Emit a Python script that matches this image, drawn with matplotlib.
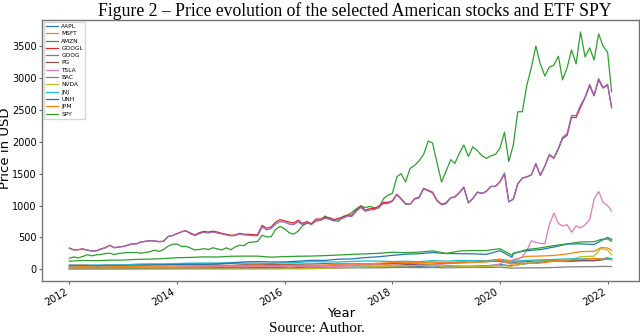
import pandas as pd
import matplotlib
matplotlib.use('Agg')
import matplotlib.pyplot as plt

# monthly closes (start of month), last point = end of data (28 Jan 2022)
month_dates = list(pd.date_range('2012-01-01', '2022-01-01', freq='MS')) + [pd.Timestamp('2022-01-28')]

amzn = [175, 195, 180, 202, 230, 212, 228, 233, 248, 254, 232, 250,
        257, 265, 264, 266, 253, 267, 277, 301, 281, 312, 364, 393,
        398, 358, 362, 336, 304, 312, 325, 312, 339, 322, 305, 338,
        308, 354, 380, 372, 421, 430, 437, 536, 510, 511, 626, 674,
        636, 574, 552, 598, 683, 722, 715, 758, 770, 836, 789, 765,
        753, 832, 845, 891, 948, 995, 968, 987, 966, 961, 1105, 1162,
        1190, 1450, 1500, 1370, 1580, 1630, 1700, 1800, 2010, 1980, 1660, 1370,
        1540, 1720, 1660, 1820, 1950, 1770, 1920, 1860, 1780, 1740, 1780, 1800,
        1900, 2150, 1690, 1950, 2470, 2470, 2880, 3160, 3500, 3220, 3030, 3170,
        3200, 3340, 2970, 3160, 3440, 3220, 3720, 3330, 3470, 3280, 3690, 3500,
        3400, 2786]

goog = [333, 305, 310, 320, 302, 290, 290, 318, 340, 378, 340, 350,
        360, 380, 400, 400, 430, 440, 450, 445, 435, 440, 515, 530,
        560, 590, 605, 560, 530, 560, 580, 570, 585, 570, 555, 540,
        525, 530, 555, 540, 535, 530, 525, 665, 620, 640, 710, 750,
        740, 710, 700, 745, 700, 735, 700, 770, 770, 800, 785, 760,
        785, 800, 835, 830, 910, 970, 910, 930, 935, 970, 1030, 1030,
        1065, 1170, 1100, 1020, 1020, 1100, 1120, 1260, 1230, 1195, 1070, 1010,
        1030, 1120, 1130, 1200, 1280, 1040, 1110, 1210, 1190, 1220, 1300, 1300,
        1370, 1510, 1060, 1100, 1340, 1430, 1450, 1480, 1660, 1480, 1620, 1800,
        1750, 1900, 2070, 2130, 2410, 2410, 2570, 2700, 2900, 2730, 2990, 2850,
        2900, 2532]

googl = [333, 305, 310, 320, 302, 290, 290, 318, 340, 378, 340, 350,
         360, 380, 400, 400, 430, 440, 450, 445, 435, 440, 515, 530,
         560, 590, 605, 570, 540, 575, 595, 585, 600, 585, 565, 550,
         535, 540, 565, 550, 550, 545, 540, 690, 645, 665, 740, 780,
         760, 740, 725, 770, 720, 750, 715, 790, 790, 820, 810, 780,
         800, 820, 850, 850, 930, 990, 930, 950, 955, 990, 1050, 1050,
         1075, 1180, 1110, 1030, 1020, 1110, 1130, 1270, 1240, 1210, 1080, 1020,
         1045, 1125, 1135, 1205, 1290, 1045, 1110, 1210, 1190, 1225, 1300, 1300,
         1370, 1500, 1060, 1100, 1340, 1430, 1450, 1480, 1650, 1470, 1620, 1790,
         1740, 1890, 2050, 2100, 2380, 2380, 2540, 2690, 2880, 2720, 2970, 2840,
         2890, 2540]

tsla = [5.6, 6.5, 6.6, 6.7, 6.3, 6.3, 6.2, 5.7, 5.9, 5.6, 5.7, 6.8,
        6.9, 7.5, 7.8, 10.3, 13.6, 20.4, 24.5, 27.3, 34.0, 38.6, 29.9, 25.6,
        30.0, 38.5, 42.0, 45.0, 41.5, 44.6, 45.8, 47.4, 56.0, 48.0, 48.0, 44.4,
        43.9, 40.5, 40.5, 45.5, 45.0, 50.0, 53.4, 48.5, 49.8, 41.7, 46.8, 48.0,
        43.0, 37.0, 38.5, 48.0, 44.5, 44.0, 43.0, 45.4, 41.0, 40.5, 37.9, 43.0,
        43.3, 51.4, 49.9, 55.9, 63.0, 68.2, 72.0, 65.0, 70.5, 68.0, 66.8, 61.6,
        63.9, 68.6, 66.0, 55.0, 58.8, 57.4, 68.7, 59.6, 60.0, 61.4, 70.0, 70.2,
        62.0, 61.0, 55.0, 58.0, 48.0, 37.0, 47.0, 48.0, 45.0, 48.0, 62.8, 67.0,
        86.0, 130.0, 100.0, 150.0, 160.0, 200.0, 290.0, 450.0, 420.0, 410.0, 400.0, 700.0,
        880.0, 720.0, 680.0, 700.0, 582.0, 680.0, 650.0, 700.0, 780.0, 1100.0, 1221.0, 1050.0,
        1000.0, 914.0]

# quarterly closes plus the March 2020 low, the Nov 2021 high and the last day
q_dates = sorted(list(pd.date_range('2012-01-01', '2022-01-01', freq='QS'))
                 + [pd.Timestamp('2020-03-23'), pd.Timestamp('2021-11-19'), pd.Timestamp('2022-01-28')])

aapl = [14.6, 21.4, 21.4, 23.8, 19.0, 15.3, 14.2, 17.0, 19.8, 19.2, 23.9, 25.2,
        27.3, 31.3, 32.4, 27.5, 26.3, 27.2, 23.8, 28.4, 29.0, 36.0, 36.6, 38.5,
        43.0, 41.9, 46.3, 56.8, 39.5, 47.8, 50.4, 56.1, 75.1, 56.0, 60.2, 91.0, 116.5,
        129.4, 123.0, 139.9, 142.8, 160.0, 182.0, 160.0]
msft = [26.8, 32.3, 29.4, 29.5, 27.6, 28.8, 34.4, 33.6, 37.2, 41.0, 41.8, 45.9,
        46.8, 40.7, 44.3, 44.6, 54.8, 55.6, 51.2, 57.4, 62.6, 65.9, 68.9, 74.3,
        86.0, 91.3, 98.6, 115.6, 101.1, 119.0, 137.5, 137.1, 160.6, 135.0, 152.1, 204.7, 209.4,
        217.7, 242.4, 277.4, 284.0, 343.0, 334.8, 300.0]
pg = [66, 67, 61, 69, 68, 77, 77, 75, 81, 80, 79, 84,
      91, 81, 79, 75, 79, 82, 85, 90, 84, 90, 87, 91,
      92, 79, 78, 83, 92, 104, 109, 124, 125, 98, 113, 120, 139,
      139, 135, 135, 135, 147, 162, 160]
bac = [5.8, 9.6, 7.3, 9.3, 11.6, 12.2, 14.6, 13.8, 16.7, 17.2, 15.3, 17.1,
       17.9, 15.4, 17.9, 15.6, 16.8, 13.5, 13.3, 15.6, 22.5, 23.6, 24.3, 25.3,
       29.5, 30.0, 28.2, 29.4, 24.6, 29.0, 30.6, 29.2, 35.2, 19.0, 21.6, 23.8, 24.1,
       30.3, 38.6, 41.2, 42.5, 47.0, 45.9, 45.0]
nvda = [3.5, 3.4, 3.3, 3.1, 3.1, 3.2, 3.5, 3.9, 4.0, 4.6, 4.6, 4.7,
        5.0, 5.3, 5.0, 6.2, 8.2, 8.9, 14.3, 17.5, 25.6, 27.0, 36.1, 44.7,
        49.3, 56.9, 59.0, 70.0, 34.0, 44.0, 41.0, 44.0, 59.0, 49.0, 61.0, 95.0, 136.0,
        131.0, 133.0, 200.0, 207.0, 330.0, 301.0, 228.0]
jnj = [65, 64, 68, 69, 70, 82, 86, 87, 92, 98, 100, 100,
       105, 100, 97, 93, 103, 108, 121, 118, 115, 125, 132, 130,
       123, 128, 121, 138, 129, 140, 139, 130, 147, 111, 131, 141, 149,
       157, 164, 165, 172, 162, 171, 170]
unh = [51.6, 59, 51, 55, 54, 57, 65, 72, 75, 82, 81, 86,
       101, 118, 122, 117, 117, 129, 143, 141, 160, 164, 185, 198,
       220, 238, 245, 265, 249, 247, 244, 235, 294, 190, 255, 295, 310,
       350, 398, 400, 390, 450, 502, 470]
jpm = [34, 45, 36, 41, 44, 48, 53, 52, 58, 57, 58, 60,
       60, 61, 68, 61, 66, 59, 62, 67, 86, 88, 87, 96,
       107, 110, 104, 112, 97, 101, 112, 118, 139, 79, 90, 94, 97,
       127, 152, 155, 170, 163, 158, 150]
spy = [128, 140, 136, 144, 146, 157, 161, 169, 183, 188, 196, 194,
       206, 208, 208, 192, 201, 206, 209, 216, 225, 236, 243, 252,
       269, 262, 271, 291, 250, 288, 296, 296, 324, 222, 247, 310, 337,
       373, 400, 430, 434, 470, 477, 440]

series = [('AAPL', q_dates, aapl), ('MSFT', q_dates, msft), ('AMZN', month_dates, amzn),
          ('GOOGL', month_dates, googl), ('GOOG', month_dates, goog), ('PG', q_dates, pg),
          ('TSLA', month_dates, tsla), ('BAC', q_dates, bac), ('NVDA', q_dates, nvda),
          ('JNJ', q_dates, jnj), ('UNH', q_dates, unh), ('JPM', q_dates, jpm),
          ('SPY', q_dates, spy)]

fig = plt.figure(figsize=(6.4, 3.35), dpi=100)
ax = fig.add_axes([0.066, 0.161, 0.932, 0.779])

for name, d, v in series:
    ax.plot(d, v, label=name, linewidth=0.9)

ax.set_xlabel('Year', fontsize=9.5)
ax.set_ylabel('Price in USD', fontsize=9.5)
ax.xaxis.set_label_coords(0.501, -0.1)
ax.yaxis.set_label_coords(-0.062, 0.508)
ax.yaxis.label.set_va('center')
ax.tick_params(labelsize=7, length=2.5, pad=1.5, color='0.4')
for lab in ax.get_xticklabels():
    lab.set_rotation(30)
    lab.set_ha('right')
for s in ax.spines.values():
    s.set_color('0.45')
    s.set_linewidth(1.0)

ax.legend(loc='upper left', fontsize=4.2, labelspacing=0.38, handlelength=2.0,
          handletextpad=0.6, borderpad=0.4, borderaxespad=0.25, fancybox=False, edgecolor='0.8')

fig.text(0.554, 0.968, 'Figure 2 \u2013 Price evolution of the selected American stocks and ETF SPY',
         ha='center', va='center', fontsize=12.7, family='Liberation Serif')
fig.text(0.495, 0.018, 'Source: Author.', ha='center', va='center', fontsize=11, family='Liberation Serif')

fig.savefig('out.png', dpi=100)
